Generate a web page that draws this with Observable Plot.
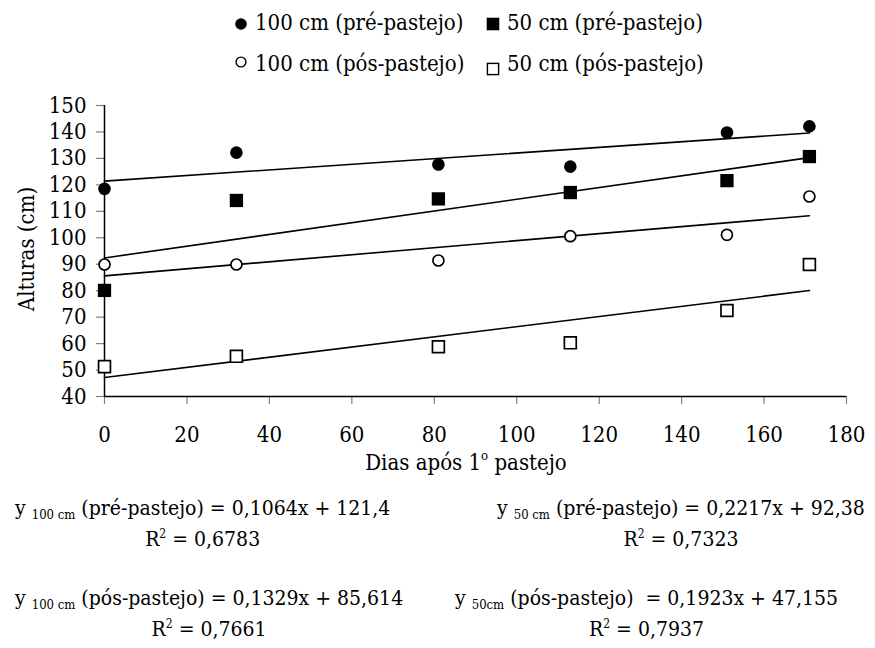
<!DOCTYPE html>
<html>
<head>
<meta charset="utf-8">
<script src="https://cdn.jsdelivr.net/npm/d3@7"></script>
<script src="https://cdn.jsdelivr.net/npm/@observablehq/plot@0.6"></script>
<style>
  html, body { margin: 0; padding: 0; background: #fff; }
  #wrap { position: relative; width: 875px; height: 648px; font-family: "DejaVu Serif Condensed", "DejaVu Serif", serif; font-stretch: condensed; color: #000; overflow: hidden; }
  .t { position: absolute; font-size: 22px; line-height: 22px; white-space: nowrap; }
  .eq { position: absolute; font-size: 21px; line-height: 21px; white-space: nowrap; text-align: center; }
  .eq .l2 { display: block; margin-top: 8px; }
  .sub { font-size: 13px; position: relative; top: 4px; }
  .sup2 { font-size: 12px; position: relative; top: -8px; }
  svg.mk { position: absolute; overflow: visible; }
</style>
</head>
<body>
<div id="wrap">
  <div id="legend"></div>
  <div id="chart" style="position:absolute;left:0;top:90px;"></div>
  <div class="t" style="left:466px;top:452px;transform:translateX(-50%);">Dias após 1<span style="font-size:13px;position:relative;top:-10px;">o</span> pastejo</div>
  <div class="t" style="left:27px;top:249px;transform:translate(-50%,-50%) rotate(-90deg);">Alturas (cm)</div>
  <div id="eqs"></div>
</div>
<script>
// ---- data ----
const days = [0, 32, 81, 113, 151, 171];
const pre100 = [118.5, 132.2, 127.7, 126.9, 139.8, 142.1];
const pre50  = [80.1, 114.1, 114.7, 117.1, 121.6, 130.7];
const pos100 = [89.9, 89.9, 91.4, 100.6, 101.1, 115.6];
const pos50  = [51.3, 55.2, 58.8, 60.3, 72.5, 89.9];

const seriesNames = ["100 cm (pré-pastejo)", "50 cm (pré-pastejo)", "100 cm (pós-pastejo)", "50 cm (pós-pastejo)"];
const seriesValues = [pre100, pre50, pos100, pos50];
// printed regression equations
const slopes = [0.1064, 0.2217, 0.1329, 0.1923];
const intercepts = [121.4, 92.38, 85.614, 47.155];
const r2 = ["0,6783", "0,7323", "0,7661", "0,7937"];
const eqSlopeText = ["0,1064", "0,2217", "0,1329", "0,1923"];
const eqInterceptText = ["121,4", "92,38", "85,614", "47,155"];
const eqSubText = ["100 cm", "50 cm", "100 cm", "50cm"];
const eqPhase = ["pré-pastejo", "pré-pastejo", "pós-pastejo", "pós-pastejo"];
const trendRange = [0, 171];

const xTicks = [0, 20, 40, 60, 80, 100, 120, 140, 160, 180];
const yTicks = [40, 50, 60, 70, 80, 90, 100, 110, 120, 130, 140, 150];

// ---- build tables ----
const points = seriesNames.flatMap((s, i) => days.map((d, j) => ({series: s, idx: i, x: d, y: seriesValues[i][j]})));
const trend = seriesNames.flatMap((s, i) => trendRange.map(x => ({series: s, x, y: intercepts[i] + slopes[i] * x})));

const style = [
  {symbol: "circle", r: 6.3, fill: "black", stroke: "none", strokeWidth: 0},
  {symbol: "square", r: 7.5, fill: "black", stroke: "none", strokeWidth: 0},
  {symbol: "circle", r: 5.5, fill: "white", stroke: "black", strokeWidth: 1.7},
  {symbol: "square", r: 6.7, fill: "white", stroke: "black", strokeWidth: 1.7}
];

const dotMarks = seriesNames.map((s, i) => Plot.dot(points.filter(p => p.idx === i), {
  x: "x", y: "y", symbol: style[i].symbol, r: style[i].r, fill: style[i].fill,
  stroke: style[i].stroke, strokeWidth: style[i].strokeWidth
}));

const chart = Plot.plot({
  width: 875,
  height: 370,
  marginTop: 15,
  marginBottom: 64,
  marginLeft: 104,
  marginRight: 29,
  style: {fontFamily: "'DejaVu Serif Condensed', 'DejaVu Serif'", fontStretch: "condensed", fontSize: "22px", background: "transparent", overflow: "visible", color: "black"},
  x: {domain: [0, 180]},
  y: {domain: [40, 150]},
  marks: [
    Plot.axisX({ticks: xTicks, tickSize: 8, tickPadding: 22, stroke: "#808080", strokeWidth: 1.2, fill: "black", label: null, tickFormat: d => String(d)}),
    Plot.axisY({ticks: yTicks, tickSize: 8, tickPadding: 10, stroke: "#808080", strokeWidth: 1.2, fill: "black", label: null, tickFormat: d => String(d)}),
    Plot.ruleY([40], {stroke: "black", strokeWidth: 1.5}),
    Plot.ruleX([0], {stroke: "black", strokeWidth: 1.5}),
    Plot.line(trend, {x: "x", y: "y", z: "series", stroke: "black", strokeWidth: 1.6}),
    ...dotMarks
  ]
});
document.getElementById("chart").appendChild(chart);

// ---- legend ----
const legend = document.getElementById("legend");
const legPos = [
  {mx: 240.7, my: 24, tx: 255, ty: 12},
  {mx: 492.5, my: 24, tx: 507, ty: 12},
  {mx: 240.7, my: 62, tx: 255, ty: 53},
  {mx: 492.5, my: 69, tx: 507, ty: 53}
];
const legMk = [
  `<circle cx="0" cy="0" r="5.8" fill="black"/>`,
  `<rect x="-6.3" y="-6.3" width="12.6" height="12.6" fill="black"/>`,
  `<circle cx="0" cy="0" r="4.9" fill="white" stroke="black" stroke-width="1.4"/>`,
  `<rect x="-5.6" y="-5.6" width="11.2" height="11.2" fill="white" stroke="black" stroke-width="1.4"/>`
];
seriesNames.forEach((s, i) => {
  const p = legPos[i];
  const svg = document.createElementNS("http://www.w3.org/2000/svg", "svg");
  svg.setAttribute("class", "mk");
  svg.setAttribute("width", 1); svg.setAttribute("height", 1);
  svg.style.left = p.mx + "px"; svg.style.top = p.my + "px";
  svg.innerHTML = legMk[i];
  legend.appendChild(svg);
  const t = document.createElement("div");
  t.className = "t";
  t.style.left = p.tx + "px"; t.style.top = p.ty + "px";
  t.textContent = s;
  legend.appendChild(t);
});

// ---- equations ----
const eqs = document.getElementById("eqs");
const eqPos = [
  {left: 15, top: 498},
  {left: 497, top: 498},
  {left: 15, top: 588},
  {left: 455, top: 588}
];
eqPos.forEach((p, i) => {
  const d = document.createElement("div");
  d.className = "eq";
  d.style.left = p.left + "px"; d.style.top = p.top + "px";
  const gap = i === 3 ? "&nbsp; " : " ";
  d.innerHTML = `<span>y <span class="sub">${eqSubText[i]}</span> (${eqPhase[i]})${gap}= ${eqSlopeText[i]}x + ${eqInterceptText[i]}</span>` +
    `<span class="l2">R<span class="sup2">2</span> = ${r2[i]}</span>`;
  eqs.appendChild(d);
});
</script>
</body>
</html>
